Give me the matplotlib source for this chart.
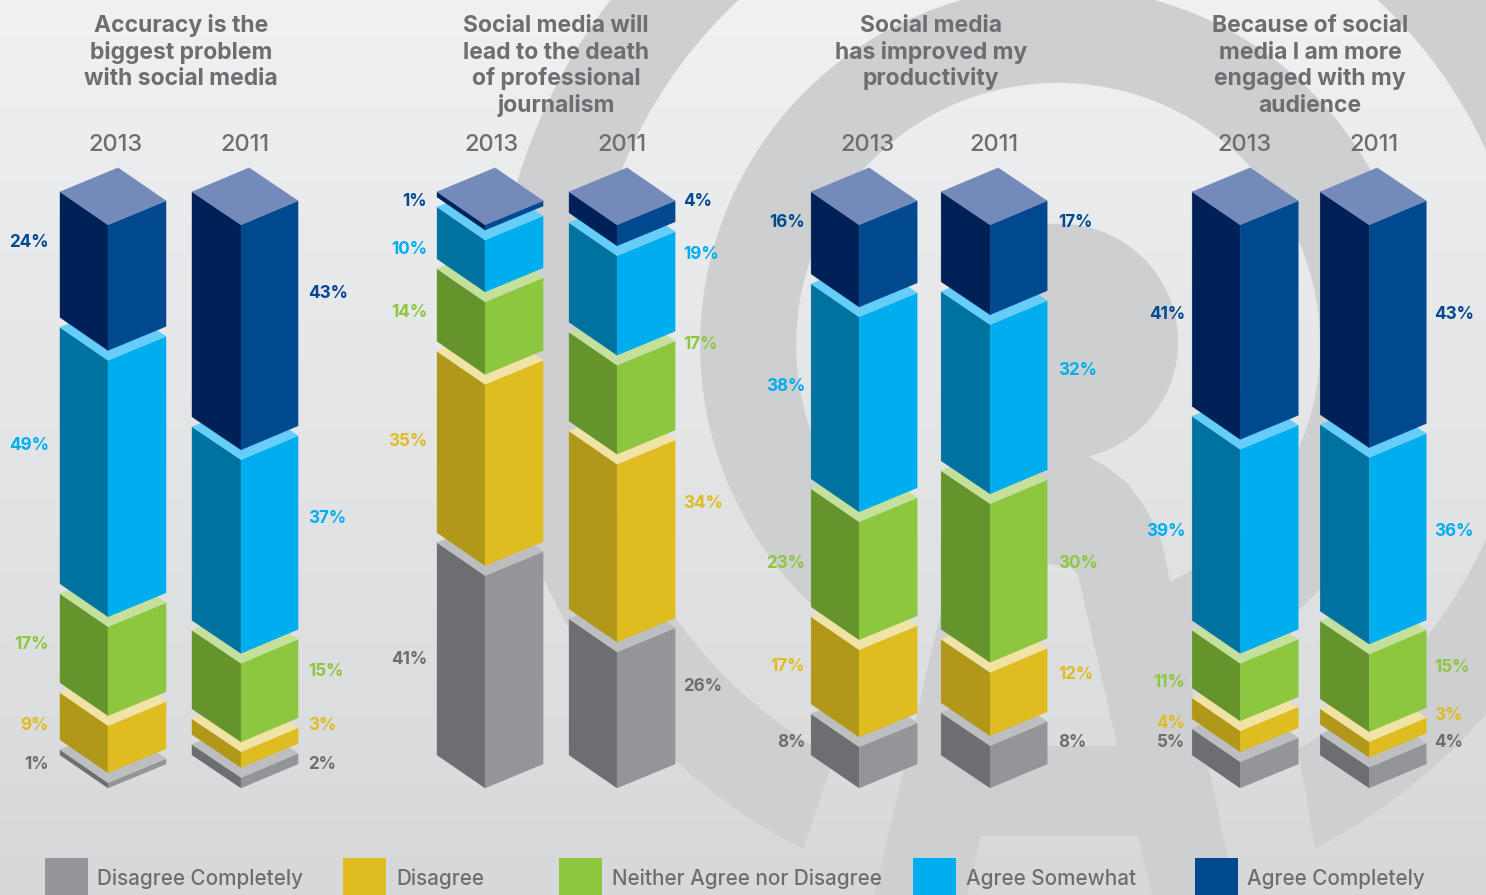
#!/usr/bin/env python3
"""Social media survey: stacked isometric columns, 2013 against 2011."""

import matplotlib

matplotlib.use("Agg")
import matplotlib.pyplot as plt
from matplotlib.colors import to_rgb
from matplotlib.patches import Polygon, Rectangle, Wedge
import numpy as np

WIDTH, HEIGHT = 1486, 895

QUESTIONS = [
    "Accuracy is the\nbiggest problem\nwith social media",
    "Social media will\nlead to the death\nof professional\njournalism",
    "Social media\nhas improved my\nproductivity",
    "Because of social\nmedia I am more\nengaged with my\naudience",
]
YEARS = ["2013", "2011"] * 4
LEGEND_LABELS = [
    "Disagree Completely",
    "Disagree",
    "Neither Agree nor Disagree",
    "Agree Somewhat",
    "Agree Completely",
]

# percentages per column, left to right
DISAGREE_COMPLETELY = [1, 2, 41, 26, 8, 8, 5, 4]
DISAGREE = [9, 3, 35, 34, 17, 12, 4, 3]
NEITHER = [17, 15, 14, 17, 23, 30, 11, 15]
AGREE_SOMEWHAT = [49, 37, 10, 19, 38, 32, 39, 36]
AGREE_COMPLETELY = [24, 43, 1, 4, 16, 17, 41, 43]
SERIES = [DISAGREE_COMPLETELY, DISAGREE, NEITHER, AGREE_SOMEWHAT, AGREE_COMPLETELY]

# left, front edge and right of each column
COLUMN_X = [
    (60, 108, 166), (192, 241, 298),
    (437, 485, 543), (569, 617, 675),
    (811, 859, 917), (941, 990, 1047),
    (1192, 1240, 1298), (1320, 1369, 1426),
]
YEAR_X = [115, 245, 491, 622, 867, 994, 1244, 1374]
TITLE_X = [181, 556, 931, 1310]

# inner edge of the percent labels, then their heights (bottom segment first)
LABEL_X = [49, 308, 427, 683, 805, 1058, 1185, 1434]
LABEL_Y = [
    (764, 725, 644, 445, 242),
    (764, 725, 671, 518, 293),
    (659, 441, 312, 249, 201),
    (686, 503, 344, 254, 201),
    (742, 666, 563, 386, 222),
    (742, 674, 563, 370, 222),
    (742, 723, 682, 531, 314),
    (742, 715, 667, 531, 314),
]

LEFT_FACE = ["#6d6e71", "#b29818", "#66942c", "#0072a0", "#002157"]
RIGHT_FACE = ["#939598", "#dfbc20", "#8dc63f", "#00aeef", "#00498f"]
CAP_FACE = ["#bcbec0", "#f1e2a6", "#c4e09c", "#66cdf9", "#748abb"]
LABEL_COLOR = ["#6d6e71", "#dfbc20", "#8dc63f", "#00aeef", "#00498f"]
TEXT_GRAY = "#6d6e71"
MARK_GRAY = "#cecfd1"

TOP_FRONT, BOTTOM_FRONT = 225, 788
GAP = 10
DEPTH_LEFT, DEPTH_RIGHT = 33, 24

LEGEND_SWATCH_X = [45, 343, 559, 913, 1195]
LEGEND_TEXT_X = [97, 396, 612, 966, 1247]


def background(ax, clip=None):
    top = np.array(to_rgb("#f0f1f2"))
    bottom = np.array(to_rgb("#d7d8da"))
    t = np.linspace(0, 1, 256)[:, None, None]
    grad = top[None, None, :] * (1 - t) + bottom[None, None, :] * t
    im = ax.imshow(grad, extent=(0, WIDTH, HEIGHT, 0), aspect="auto", zorder=1)
    if clip is not None:
        im.set_clip_path(Polygon(clip, transform=ax.transData))


def draw_watermark(ax):
    cx, cy = 1058, 345
    for outer, inner in ((565, 470), (358, 262)):
        ax.add_patch(Wedge((cx, cy), outer, 0, 360, width=outer - inner, color=MARK_GRAY, lw=0, zorder=1))

    # ring opening under the letter
    background(ax, [(838, 745), (788, 895), (1323, 895), (1297, 745)])

    angles = np.radians(np.linspace(-90, 76, 80))
    bowl = [(1060 + 118 * np.cos(a), 342 + 118 * np.sin(a)) for a in angles]
    body = [(1000, 224)] + bowl + [
        (1108, 468), (1127, 483), (1142, 503), (1153, 522), (1160, 538), (1163, 548),
        (1235, 895), (874, 895), (941, 612), (1000, 612),
    ]
    ax.add_patch(Polygon(body, color=MARK_GRAY, lw=0, zorder=1))

    # counters of the letter, and the inner ring stopping short of the stem
    background(ax, [(1000, 564), (1047, 564), (1070, 567), (1078, 575), (1117, 746), (1000, 746)])
    background(ax, [(981, 836), (1138, 836), (1152, 895), (967, 895)])
    background(ax, [(905, 560), (941, 560), (941, 612), (917, 710), (905, 710)])


def draw_column(ax, xs, values):
    left, front, right = xs
    scale = (BOTTOM_FRONT - TOP_FRONT - GAP * (len(values) - 1)) / sum(values)
    y_bottom = BOTTOM_FRONT
    for i, v in enumerate(values):
        y_top = y_bottom - v * scale
        faces = [
            ([(left, y_top - DEPTH_LEFT), (front, y_top), (front, y_bottom), (left, y_bottom - DEPTH_LEFT)], LEFT_FACE[i]),
            ([(front, y_top), (right, y_top - DEPTH_RIGHT), (right, y_bottom - DEPTH_RIGHT), (front, y_bottom)], RIGHT_FACE[i]),
            ([(left, y_top - DEPTH_LEFT), (left + right - front, y_top - DEPTH_LEFT - DEPTH_RIGHT),
              (right, y_top - DEPTH_RIGHT), (front, y_top)], CAP_FACE[i]),
        ]
        for verts, color in faces:
            ax.add_patch(Polygon(verts, facecolor=color, edgecolor=color, lw=0.3, zorder=3))
        y_bottom = y_top - GAP


# the extra fraction keeps the canvas from rounding down a pixel
fig = plt.figure(figsize=((WIDTH + 0.2) / 100, (HEIGHT + 0.2) / 100), dpi=100)
ax = fig.add_axes([0, 0, 1, 1])

background(ax)
draw_watermark(ax)

for col, xs in enumerate(COLUMN_X):
    values = [s[col] for s in SERIES]
    draw_column(ax, xs, values)
    ax.text(YEAR_X[col], 145, YEARS[col], ha="center", va="center", color=TEXT_GRAY,
            family="Inter", fontweight="medium", fontsize=17, zorder=4)
    for i, v in enumerate(values):
        ha = "right" if col % 2 == 0 else "left"
        ax.text(LABEL_X[col], LABEL_Y[col][i], f"{v}%", ha=ha, va="center", color=LABEL_COLOR[i],
                family="Inter", fontweight="bold", fontsize=12.3, zorder=4)

for title, tx in zip(QUESTIONS, TITLE_X):
    for k, line in enumerate(title.split("\n")):
        ax.text(tx, 32 + 26.6 * k, line, ha="center", va="baseline", color=TEXT_GRAY,
                family="Inter", fontweight="bold", fontsize=16.5, zorder=4)

for sx, lx, label, color in zip(LEGEND_SWATCH_X, LEGEND_TEXT_X, LEGEND_LABELS, RIGHT_FACE):
    ax.add_patch(Rectangle((sx, 858), 43, 37, color=color, lw=0, zorder=4))
    ax.text(lx, 879, label, ha="left", va="center", color=TEXT_GRAY, family="Inter",
            fontweight="medium", fontsize=14.85, zorder=4)

ax.set_xlim(0, WIDTH)
ax.set_ylim(HEIGHT, 0)
ax.axis("off")

fig.savefig("out.png", dpi=100)
plt.close(fig)
